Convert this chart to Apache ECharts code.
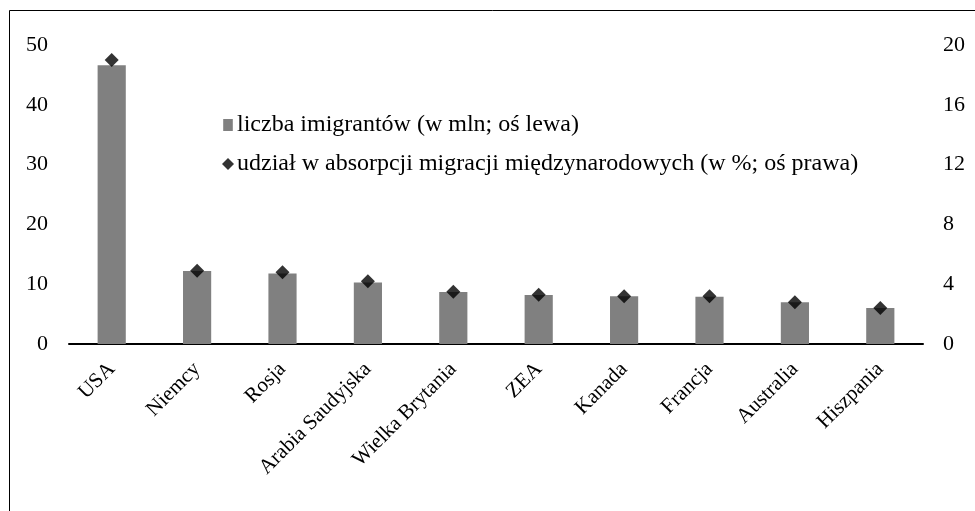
<!DOCTYPE html>
<html>
<head>
<meta charset="utf-8">
<script src="https://cdn.jsdelivr.net/npm/echarts@6/dist/echarts.min.js"></script>
<style>html,body{margin:0;padding:0;background:#fff}#c{width:975px;height:511px}</style>
</head>
<body>
<div id="c"></div>
<script>
const categories = ['USA','Niemcy','Rosja','Arabia Saudyjska','Wielka Brytania','ZEA','Kanada','Francja','Australia','Hiszpania'];
const immigrants = [46.6, 12.2, 11.8, 10.3, 8.7, 8.2, 8.0, 7.9, 7.0, 6.0];
const share = [19.0, 4.9, 4.8, 4.2, 3.5, 3.3, 3.2, 3.2, 2.8, 2.4];
const leftTicks = {min: 0, max: 50, interval: 10};
const rightTicks = {min: 0, max: 20, interval: 4};
const barName = 'liczba imigrantów (w mln; oś lewa)';
const dotName = 'udział w absorpcji migracji międzynarodowych (w %; oś prawa)';

const font = 'Liberation Serif';
const chart = echarts.init(document.getElementById('c'));
chart.setOption({
  animation: false,
  textStyle: {fontFamily: font},
  graphic: [{type: 'rect', shape: {x: 9.5, y: 10.5, width: 1000, height: 600}, style: {fill: 'none', stroke: '#000', lineWidth: 1}, silent: true}],
  grid: {left: 69, right: 52, top: 45, bottom: 167},
  legend: {
    orient: 'vertical', left: 222, top: 113, itemGap: 15,
    itemWidth: 12, itemHeight: 12, padding: 0,
    textStyle: {fontFamily: font, fontSize: 24, color: '#000', lineHeight: 24, padding: [0, 0, 0, -2]},
    data: [
      {name: barName, icon: 'path://M2,1 L10,1 L10,11 L2,11 Z', itemStyle: {color: '#808080'}},
      {name: dotName, icon: 'diamond', itemStyle: {color: '#000'}}
    ]
  },
  xAxis: {
    type: 'category', data: categories,
    axisLine: {lineStyle: {color: '#000', width: 2}},
    axisTick: {show: false},
    axisLabel: {rotate: 45, fontFamily: font, fontSize: 21, color: '#000', margin: 22, interval: 0}
  },
  yAxis: [
    {type: 'value', min: leftTicks.min, max: leftTicks.max, interval: leftTicks.interval,
     axisLine: {show: false}, axisTick: {show: false}, splitLine: {show: false},
     axisLabel: {fontFamily: font, fontSize: 22, color: '#000', margin: 21}},
    {type: 'value', min: rightTicks.min, max: rightTicks.max, interval: rightTicks.interval,
     axisLine: {show: false}, axisTick: {show: false}, splitLine: {show: false},
     axisLabel: {fontFamily: font, fontSize: 22, color: '#000', margin: 20}}
  ],
  series: [
    {name: barName, type: 'bar', data: immigrants, barWidth: '33%', yAxisIndex: 0,
     itemStyle: {color: '#808080'}},
    {name: dotName, type: 'scatter', data: share, yAxisIndex: 1, symbol: 'diamond', symbolSize: 14,
     itemStyle: {color: '#000'}}
  ]
});
</script>
</body>
</html>
